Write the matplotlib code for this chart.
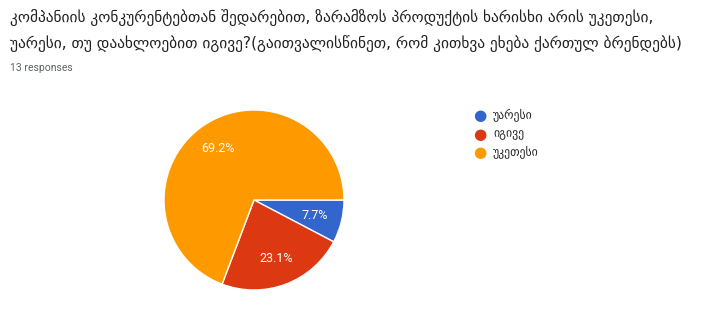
import matplotlib.pyplot as plt

# data
labels = ['უარესი', 'იგივე', 'უკეთესი']
counts = [1, 3, 9]
colors = ['#3366cc', '#dc3912', '#ff9900']

title_1 = 'კომპანიის კონკურენტებთან შედარებით, ზარამზოს პროდუქტის ხარისხი არის უკეთესი,'
title_2 = 'უარესი, თუ დაახლოებით იგივე?(გაითვალისწინეთ, რომ კითხვა ეხება ქართულ ბრენდებს)'
n_resp = '13 responses'

W, H = 708, 321
fig = plt.figure(figsize=(W / 100, H / 100), dpi=100)
fig.patch.set_facecolor('white')

fig.text(10 / W, 1 - 22 / H, title_1, fontsize=11.1, color='#202124', va='baseline', family='DejaVu Sans')
fig.text(10 / W, 1 - 48 / H, title_2, fontsize=11.1, color='#202124', va='baseline', family='DejaVu Sans')
fig.text(10 / W, 1 - 71 / H, n_resp, fontsize=7.5, color='#5f6368', va='baseline', family='Roboto')

# pie centred at (254, 200) px, radius 90 px
cx, cy, r = 254, 200, 90
ax = fig.add_axes([(cx - r) / W, (H - cy - r) / H, 2 * r / W, 2 * r / H])
wedges, texts, autotexts = ax.pie(
    counts, colors=colors, startangle=0, counterclock=False,
    autopct='%.1f%%', pctdistance=0.7,
    wedgeprops=dict(edgecolor='white', linewidth=1),
    textprops=dict(color='white', fontsize=9, family='Roboto'),
)
ax.set_xlim(-1, 1)
ax.set_ylim(-1, 1)
ax.set_aspect('equal')
ax.axis('off')

# legend
lx, ly = 480, [116, 134, 152]
for lab, col, y in zip(labels, colors, ly):
    fig.text(lx / W, 1 - y / H, '●', color=col, fontsize=11, ha='center', va='center')
    fig.text(493 / W, 1 - y / H, lab, color='#222222', fontsize=8.5, va='center', family='DejaVu Sans')

plt.savefig('out.png', dpi=100)
